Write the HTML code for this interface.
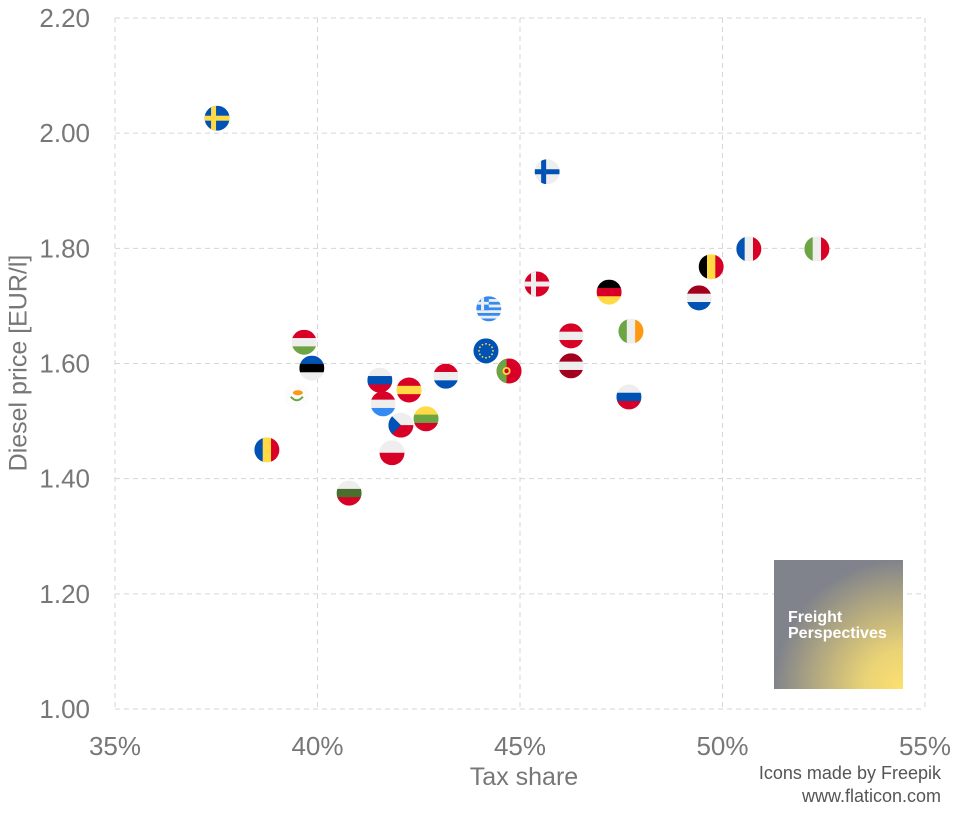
<!DOCTYPE html>
<html><head><meta charset="utf-8"><style>
body{margin:0;background:#fff;font-family:"Liberation Sans",sans-serif;}
svg text{font-family:"Liberation Sans",sans-serif;}
</style></head><body>
<svg id="chart" width="955" height="809" viewBox="0 0 955 809" xmlns="http://www.w3.org/2000/svg">
<g id="grid"></g>
<g id="axes"></g>
<g id="points"></g>
<text x="20" y="363" transform="rotate(-90 20 363)" text-anchor="middle" font-size="25" fill="#777" dominant-baseline="middle">Diesel price [EUR/l]</text>
<text x="524" y="785" text-anchor="middle" font-size="25" fill="#777">Tax share</text>
<defs><radialGradient id="rg" cx="1" cy="1" r="1"><stop offset="0" stop-color="#ffe070" stop-opacity="1"/><stop offset="0.3" stop-color="#f5dc74" stop-opacity="0.9"/><stop offset="1" stop-color="#ffe070" stop-opacity="0"/></radialGradient></defs>
<g>
<rect x="774" y="560" width="129" height="129" fill="#80838b"/>
<rect x="774" y="560" width="129" height="129" fill="url(#rg)"/>
<text x="788" y="622" font-size="16" font-weight="bold" fill="#fff">Freight</text>
<text x="788" y="638" font-size="16" font-weight="bold" fill="#fff">Perspectives</text>
</g>
<text x="941" y="779" text-anchor="end" font-size="18" fill="#555">Icons made by Freepik</text>
<text x="941" y="802" text-anchor="end" font-size="18" fill="#555">www.flaticon.com</text>
</svg>
<script>
const countries=["SE","FI","FR","IT","BE","DE","NL","DK","GR","AT","IE","HU","EU","LV","EE","PT","HR","SK","ES","CY","SI","LU","LT","CZ","RO","PL","BG"];
const taxShare=[37.52,45.67,50.65,52.33,49.72,47.2,49.42,45.42,44.23,46.26,47.74,39.67,44.16,46.26,39.86,44.73,43.17,41.54,42.26,39.49,47.69,41.62,42.68,42.06,38.75,41.84,40.78];
const dieselPrice=[2.026,1.933,1.799,1.799,1.768,1.724,1.714,1.738,1.695,1.648,1.656,1.637,1.622,1.596,1.592,1.587,1.578,1.571,1.554,1.544,1.542,1.530,1.504,1.493,1.450,1.445,1.375];
const xTicks=[35,40,45,50,55];
const yTicks=[1.0,1.2,1.4,1.6,1.8,2.0,2.2];
const X0=115,X1=925,Y0=709,Y1=18;
function xs(v){return X0+(v-35)/20*(X1-X0);}
function ys(v){return Y0-(v-1.0)/1.2*(Y0-Y1);}
const NS="http://www.w3.org/2000/svg";
function mk(t,a,p){const e=document.createElementNS(NS,t);for(const k in a)e.setAttribute(k,a[k]);p.appendChild(e);return e;}
const grid=document.getElementById('grid'),axes=document.getElementById('axes'),pts=document.getElementById('points');
xTicks.forEach(t=>{const l=mk('line',{x1:xs(t),x2:xs(t),y1:Y1,y2:Y0,stroke:'#d6d6d6','stroke-dasharray':'5,4'},grid);


const tx=mk('text',{x:xs(t),y:755,'text-anchor':'middle','font-size':26,fill:'#777'},axes);tx.textContent=t+'%';

});
yTicks.forEach(t=>{const l=mk('line',{x1:X0,x2:X1,y1:ys(t),y2:ys(t),stroke:'#d6d6d6','stroke-dasharray':'5,4'},grid);


const tx=mk('text',{x:90,y:ys(t)+9,'text-anchor':'end','font-size':26,fill:'#777'},axes);tx.textContent=t.toFixed(2);

});
const W='#eeeeee';
const flags={SE:['nordic','#0052b4','#ffda44'],FI:['nordic',W,'#0052b4'],DK:['nordic','#d80027',W],
FR:['v','#0052b4',W,'#d80027'],IT:['v','#6da544',W,'#d80027'],BE:['v','#000',  '#ffda44','#d80027'],IE:['v','#6da544',W,'#ff9811'],RO:['v','#0052b4','#ffda44','#d80027'],
DE:['h','#000','#d80027','#ffda44'],NL:['h','#a2001d',W,'#0052b4'],AT:['h','#d80027',W,'#d80027'],HU:['h','#d80027',W,'#6da544'],LV:['h','#a2001d',W,'#a2001d'],EE:['h','#0052b4','#000',W],HR:['h','#d80027',W,'#0052b4'],SK:['h',W,'#0052b4','#d80027'],ES:['h','#d80027','#ffda44','#d80027'],SI:['h',W,'#0052b4','#d80027'],LU:['h','#d80027',W,'#338af3'],LT:['h','#ffda44','#6da544','#d80027'],BG:['h',W,'#496e2d','#d80027'],PL:['h2',W,'#d80027'],CZ:['h2',W,'#d80027'],
GR:['gr'],EU:['eu'],PT:['pt'],CY:['cy']};
const R=12.5;
countries.forEach((c,i)=>{
const cx=xs(taxShare[i]),cy=ys(dieselPrice[i]);
const g=mk('g',{},pts);


const cp=mk('clipPath',{id:'c'+i},g);mk('circle',{cx:cx,cy:cy,r:R},cp);
const h=mk('g',{'clip-path':'url(#c'+i+')'},g);
const f=flags[c],x=cx-R,y=cy-R,s=2*R;
if(f[0]==='h'){for(let k=0;k<3;k++)mk('rect',{x:x,y:y+k*s/3,width:s,height:s/3+0.5,fill:f[k+1]},h);}
else if(f[0]==='h2'){mk('rect',{x:x,y:y,width:s,height:s/2,fill:f[1]},h);mk('rect',{x:x,y:cy,width:s,height:s/2,fill:f[2]},h);
 if(c==='CZ')mk('polygon',{points:`${x},${y} ${cx},${cy} ${x},${y+s}`,fill:'#0052b4'},h);}
else if(f[0]==='v'){for(let k=0;k<3;k++)mk('rect',{x:x+k*s/3,y:y,width:s/3+0.5,height:s,fill:f[k+1]},h);}
else if(f[0]==='nordic'){mk('rect',{x:x,y:y,width:s,height:s,fill:f[1]},h);mk('rect',{x:x,y:cy-2.5,width:s,height:5,fill:f[2]},h);mk('rect',{x:cx-6,y:y,width:5,height:s,fill:f[2]},h);}
else if(c==='GR'){for(let k=0;k<9;k++)mk('rect',{x:x,y:y+k*s/9,width:s,height:s/9+0.3,fill:k%2?W:'#338af3'},h);mk('rect',{x:x,y:y,width:s/2,height:s*5/9,fill:'#338af3'},h);mk('rect',{x:x,y:y+s*2/9,width:s/2,height:s/9,fill:W},h);mk('rect',{x:x+s/4-1.5,y:y,width:3,height:s*5/9,fill:W},h);}
else if(c==='EU'){mk('rect',{x:x,y:y,width:s,height:s,fill:'#0052b4'},h);for(let k=0;k<12;k++){const a=k*Math.PI/6;mk('circle',{cx:cx+7*Math.cos(a),cy:cy+7*Math.sin(a),r:0.9,fill:'#ffda44'},h);}}
else if(c==='PT'){mk('rect',{x:x,y:y,width:s,height:s,fill:'#d80027'},h);mk('rect',{x:x,y:y,width:s*0.4,height:s,fill:'#6da544'},h);mk('circle',{cx:x+s*0.4,cy:cy,r:4,fill:'#ffda44'},h);mk('circle',{cx:x+s*0.4,cy:cy,r:2.2,fill:'#d80027'},h);}
else if(c==='CY'){mk('rect',{x:x,y:y,width:s,height:s,fill:'#fcfcfc'},h);mk('ellipse',{cx:cx+1,cy:cy-3,rx:5,ry:2.5,fill:'#ff9811'},h);mk('path',{d:`M${cx-6},${cy+1} Q${cx},${cy+8} ${cx+6},${cy+1}`,stroke:'#6da544','stroke-width':2,fill:'none'},h);}
});
</script>
</body></html>
